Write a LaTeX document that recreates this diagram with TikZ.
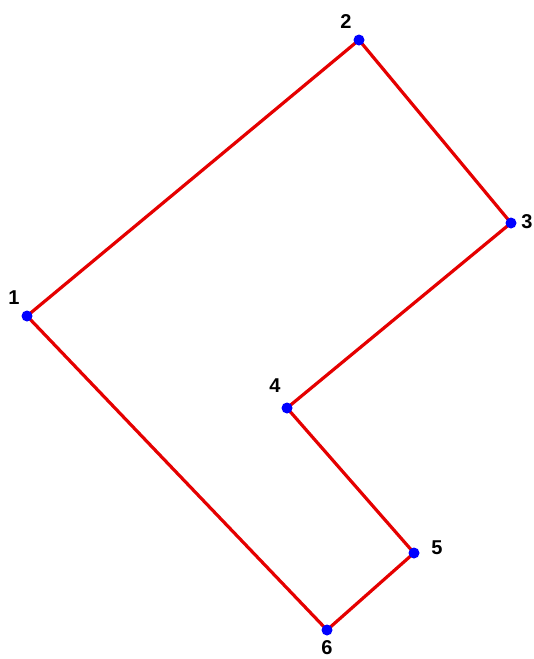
\documentclass[tikz,border=0pt]{standalone}
\usepackage{fontspec}
\setmainfont{Liberation Sans}
\begin{document}
\begin{tikzpicture}[x=1pt,y=-1pt,
  edge/.style={draw=red!90!black, line width=3.2pt},
  pt/.style={circle, fill=blue, inner sep=0pt, minimum size=11pt},
  lbl/.style={font=\bfseries\fontsize{20}{20}\selectfont, inner sep=0pt}]
\useasboundingbox (0,0) rectangle (534,659);
\coordinate (p1) at (27,316);
\coordinate (p2) at (359,40);
\coordinate (p3) at (511,223);
\coordinate (p4) at (287,408);
\coordinate (p5) at (414,553);
\coordinate (p6) at (327,630);
\draw[edge, line join=round] (p1) -- (p2) -- (p3) -- (p4) -- (p5) -- (p6) -- cycle;
\foreach \i in {1,...,6} { \node[pt] (d\i) at (p\i) {}; }
\node[lbl] (l1) at (14,298) {1};
\node[lbl] (l2) at (346,22) {2};
\node[lbl] (l3) at (527,222) {3};
\node[lbl] (l4) at (275,386) {4};
\node[lbl] (l5) at (437,548) {5};
\node[lbl] (l6) at (327,648) {6};
\end{tikzpicture}
\end{document}
